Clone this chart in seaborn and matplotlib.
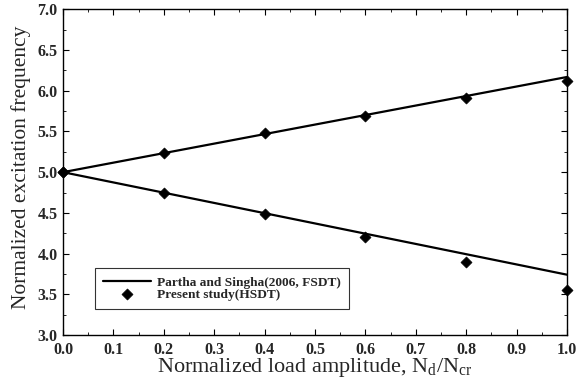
import matplotlib
matplotlib.use("Agg")
import matplotlib.pyplot as plt
import seaborn as sns
import pandas as pd
from matplotlib.ticker import MultipleLocator

# Data
line_x = [0.0, 1.0]
line_upper = [5.0, 6.17]
line_lower = [5.0, 3.74]
pts_x = [0.0, 0.2, 0.4, 0.6, 0.8, 1.0]
pts_upper = [5.0, 5.24, 5.48, 5.69, 5.91, 6.12]
pts_lower = [5.0, 4.75, 4.49, 4.20, 3.89, 3.55]
x_ticks = [0.0, 0.1, 0.2, 0.3, 0.4, 0.5, 0.6, 0.7, 0.8, 0.9, 1.0]
y_ticks = [3.0, 3.5, 4.0, 4.5, 5.0, 5.5, 6.0, 6.5, 7.0]

line_label = "Partha and Singha(2006, FSDT)"
pts_label = "Present study(HSDT)"

sns.set_theme(style="ticks")
plt.rcParams['font.family'] = ['Liberation Serif', 'DejaVu Serif']
plt.rcParams['mathtext.fontset'] = 'custom'
plt.rcParams['mathtext.rm'] = 'Liberation Serif'

fig = plt.figure(figsize=(5.86, 3.78), dpi=100)
ax = fig.add_axes([0.1075, 0.114, 0.8601, 0.861])

df_up = pd.DataFrame({"x": line_x, "y": line_upper})
df_lo = pd.DataFrame({"x": line_x, "y": line_lower})
sns.lineplot(data=df_up, x="x", y="y", ax=ax, color="black", lw=1.6, label=line_label)
sns.lineplot(data=df_lo, x="x", y="y", ax=ax, color="black", lw=1.6)

dp_up = pd.DataFrame({"x": pts_x, "y": pts_upper})
dp_lo = pd.DataFrame({"x": pts_x, "y": pts_lower})
sns.scatterplot(data=dp_up, x="x", y="y", ax=ax, color="black", marker="D", s=32,
                edgecolor="black", label=pts_label, clip_on=False, zorder=5)
sns.scatterplot(data=dp_lo, x="x", y="y", ax=ax, color="black", marker="D", s=32,
                edgecolor="black", clip_on=False, zorder=5)

ax.set_xlim(0.0, 1.0)
ax.set_ylim(3.0, 7.0)
ax.set_xticks(x_ticks)
ax.set_yticks(y_ticks)
ax.set_xticklabels([f"{v:.1f}" for v in x_ticks], fontweight="bold")
ax.set_yticklabels([f"{v:.1f}" for v in y_ticks], fontweight="bold")
ax.xaxis.set_minor_locator(MultipleLocator(0.05))
ax.yaxis.set_minor_locator(MultipleLocator(0.25))
ax.tick_params(which="both", direction="in", top=True, right=True, color="black")
ax.tick_params(which="major", length=4, width=0.8, labelsize=11.5)
ax.tick_params(axis="x", which="major", pad=5)
ax.tick_params(axis="y", which="major", pad=4)
ax.tick_params(which="minor", length=2.5, width=0.6)
for sp in ax.spines.values():
    sp.set_linewidth(1.0)
    sp.set_color("black")

ax.set_xlabel(r"Normalized load amplitude, N$_\mathrm{d}$/N$_\mathrm{cr}$", fontsize=16, labelpad=-1)
ax.set_ylabel("Normalized excitation frequency", fontsize=15.5)
ax.yaxis.set_label_coords(-0.063, 0.515)

leg = ax.legend(loc="lower left", bbox_to_anchor=(0.063, 0.08), borderaxespad=0,
                frameon=True, fancybox=False, edgecolor="black",
                prop={"weight": "bold", "size": 9.6},
                handlelength=3.6, handletextpad=0.5, borderpad=0.6, labelspacing=0.0)
leg.get_frame().set_linewidth(0.8)

fig.savefig("out.png", dpi=100)
